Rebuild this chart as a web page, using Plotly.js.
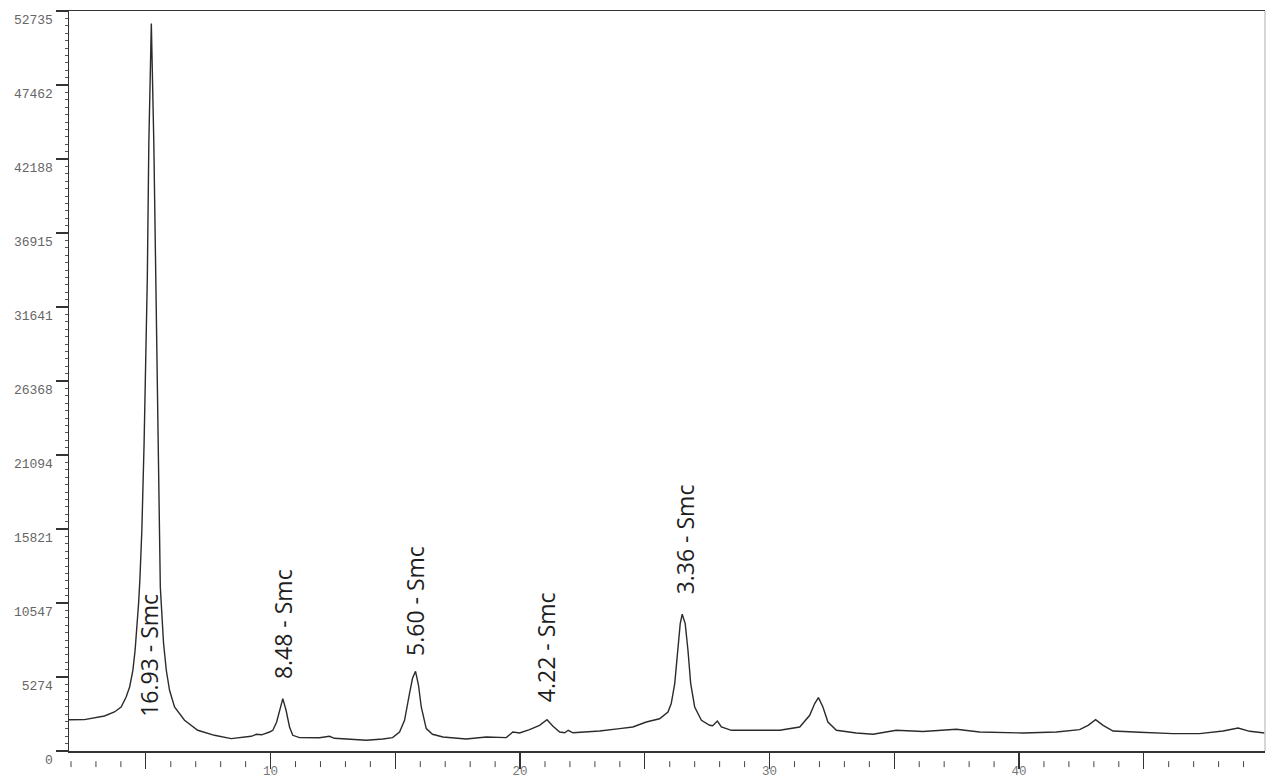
<!DOCTYPE html>
<html>
<head>
<meta charset="utf-8">
<script src="https://cdn.plot.ly/plotly-3.0.1.min.js"></script>
<style>
  html, body { margin: 0; padding: 0; background: #fff; }
  #chart { width: 1266px; height: 779px; }
</style>
</head>
<body>
<div id="chart"></div>
<script>
// 2-theta (degrees, Cu K-alpha)
const twoTheta = [
  1.92, 2.54, 3.34, 3.74, 4.01, 4.21, 4.35, 4.48, 4.57, 4.65, 4.71, 4.76, 4.84, 4.93, 4.99, 5.06, 5.12, 5.22,
  5.32, 5.39, 5.44, 5.48, 5.55, 5.58, 5.64, 5.71, 5.82, 5.95, 6.15, 6.55, 7.08, 7.75, 8.42, 9.22, 9.43, 9.64,
  9.96, 10.09, 10.24, 10.36, 10.49, 10.62, 10.76, 10.89, 11.16, 11.96, 12.36, 12.56, 13.17, 13.84, 14.50, 14.89,
  15.17, 15.37, 15.57, 15.69, 15.81, 15.93, 16.04, 16.24, 16.49, 16.91, 17.84, 18.65, 19.45, 19.71, 19.98, 20.38,
  20.78, 21.08, 21.32, 21.59, 21.79, 21.93, 22.12, 23.19, 23.99, 24.52, 25.06, 25.59, 25.93, 26.06, 26.20, 26.33,
  26.42, 26.50, 26.62, 26.73, 26.84, 27.00, 27.27, 27.60, 27.72, 27.91, 28.07, 28.27, 28.47, 29.47, 30.41, 31.21,
  31.61, 31.81, 31.96, 32.14, 32.34, 32.68, 33.48, 34.15, 35.08, 36.15, 37.49, 38.42, 40.16, 41.50, 42.43, 42.77,
  43.07, 43.37, 43.77, 44.84, 46.17, 47.24, 48.18, 48.78, 49.25, 49.85
];
// intensity (counts)
const counts = [
  2224, 2239, 2495, 2780, 3137, 3850, 4563, 5753, 7179, 8840, 10530, 12169, 15734, 21936, 26662, 33791, 43323, 51856,
  43323, 33791, 26662, 21936, 15734, 11692, 9817, 7678, 5753, 4327, 3137, 2189, 1476, 1119, 884, 1048, 1191, 1155,
  1355, 1476, 2046, 2902, 3736, 2902, 1711, 1119, 955, 941, 1048, 905, 813, 763, 855, 955,
  1355, 2189, 4113, 5183, 5682, 4684, 3137, 1597, 1191, 998, 855, 998, 955, 1355, 1283, 1526,
  1832, 2224, 1761, 1355, 1297, 1476, 1297, 1426, 1597, 1711, 2067, 2296, 2780, 3379, 4805, 7179,
  9082, 9745, 9082, 7179, 4805, 3137, 2189, 1832, 1797, 2139, 1711, 1597, 1476, 1476, 1476, 1711,
  2545, 3379, 3807, 3137, 2067, 1476, 1283, 1191, 1476, 1390, 1547, 1355, 1283, 1355, 1526, 1832,
  2239, 1832, 1426, 1333, 1240, 1240, 1426, 1640, 1404, 1283
];

// peak labels
const peakLabels = ["16.93 - Smc", "8.48 - Smc", "5.60 - Smc", "4.22 - Smc", "3.36 - Smc"];
const peakLabelX = [5.15, 10.48, 15.81, 21.02, 26.60];
const peakLabelY = [2300, 4950, 6600, 3300, 11000];

// axis ticks
const yTickVals = [0, 5273.5, 10547, 15820.5, 21094, 26367.5, 31641, 36914.5, 42188, 47461.5, 52735];
const yTickText = ["0", "5274", "10547", "15821", "21094", "26368", "31641", "36915", "42188", "47462", "52735"];
const xTickVals = [5, 10, 15, 20, 25, 30, 35, 40, 45];
const xTickText = ["", "10", "", "20", "", "30", "", "40", ""];
const xMinorVals = [];
for (let v = 2; v <= 49; v++) { if (v % 5 !== 0) xMinorVals.push(v); }

const xRange = [1.92, 49.86];
const yRange = [0, 52740];

const shapes = xMinorVals.map(v => ({
  type: 'line', xref: 'x', yref: 'paper',
  x0: v, x1: v, y0: -0.0138, y1: -0.0218,
  line: { color: '#444', width: 1 }
}));
shapes.push({
  type: 'line', xref: 'paper', yref: 'paper', x0: 1, x1: 1, y0: 0, y1: 1,
  line: { color: '#c8c8c8', width: 1.5 }
});

const annotations = peakLabels.map((t, i) => ({
  text: t, x: peakLabelX[i], y: peakLabelY[i], xref: 'x', yref: 'y',
  textangle: -90, showarrow: false, xanchor: 'center', yanchor: 'bottom',
  font: { family: 'Open Sans, sans-serif', size: 23, color: '#1e1e1e' }
}));

const trace = {
  x: twoTheta, y: counts, type: 'scatter', mode: 'lines',
  line: { color: '#2b2b2b', width: 1.4 },
  hoverinfo: 'skip', showlegend: false
};

const layout = {
  width: 1266, height: 779,
  margin: { l: 69, r: 1, t: 11, b: 28 },
  paper_bgcolor: '#ffffff', plot_bgcolor: '#ffffff',
  showlegend: false,
  xaxis: {
    range: xRange, showgrid: false, zeroline: false,
    showline: true, linecolor: '#333', linewidth: 1.5, mirror: true,
    tickmode: 'array', tickvals: xTickVals, ticktext: xTickText,
    ticks: 'outside', ticklen: 16, tickwidth: 1.2, tickcolor: '#333',
    ticklabelstandoff: -9,
    tickfont: { family: 'Liberation Mono, monospace', size: 12.5, color: '#777' }
  },
  yaxis: {
    range: yRange, showgrid: false, zeroline: false,
    showline: true, linecolor: '#333', linewidth: 1.5,
    tickmode: 'array', tickvals: yTickVals, ticktext: yTickText,
    ticks: 'outside', ticklen: 12, tickwidth: 1.2, tickcolor: '#333',
    ticklabelshift: 8,
    tickfont: { family: 'Liberation Mono, monospace', size: 13, color: '#666' },
    minor: { dtick: 527.35, tick0: 0, ticks: 'outside', ticklen: 3, tickwidth: 1, tickcolor: '#555', showgrid: false }
  },
  shapes: shapes,
  annotations: annotations
};

Plotly.newPlot('chart', [trace], layout, { staticPlot: true, displayModeBar: false });
</script>
</body>
</html>
